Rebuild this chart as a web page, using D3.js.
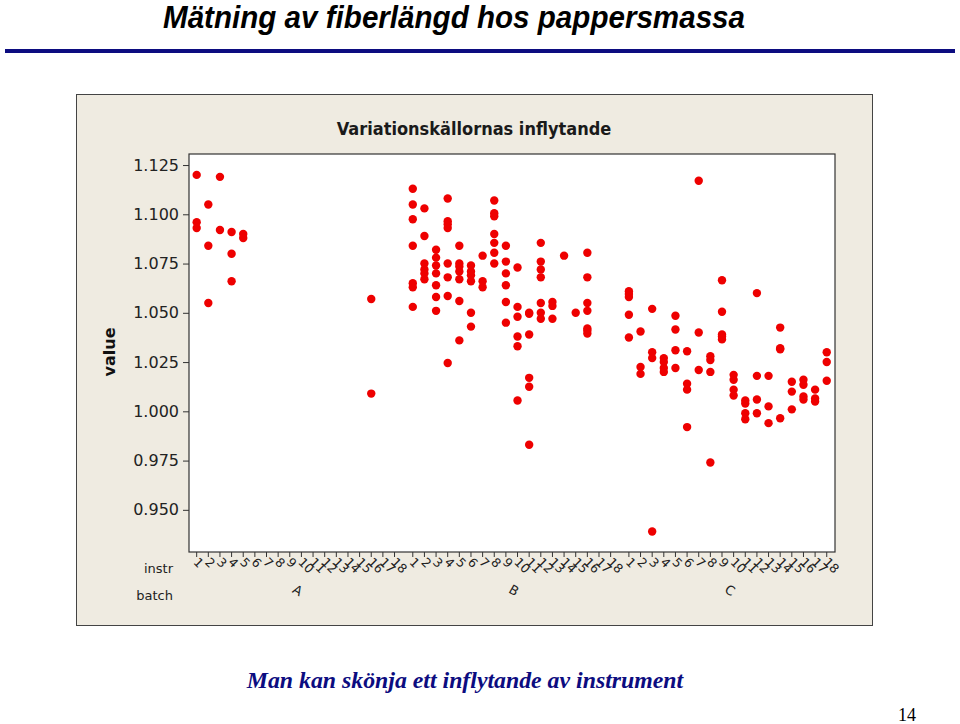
<!DOCTYPE html>
<html><head><meta charset="utf-8">
<script src="https://cdn.jsdelivr.net/npm/d3@7"></script>
<style>body{margin:0;background:#fff}svg{display:block}</style>
</head><body>
<svg id="c" width="960" height="724"></svg>
<script>
// ---- data ----
const batches = ["A", "B", "C"];
const instruments = ["1","2","3","4","5","6","7","8","9","10","11","12","13","14","15","16","17","18"];
const yTicks = [0.950, 0.975, 1.000, 1.025, 1.050, 1.075, 1.100, 1.125];
// values per instrument (1..18) for each batch
const batchA = [
  [1.120, 1.096, 1.093], [1.105, 1.084, 1.055], [1.119, 1.092], [1.091, 1.080, 1.066], [1.090, 1.088],
  [], [], [], [], [], [], [], [], [], [],
  [1.057, 1.009], [], []
];
const batchB = [
  [1.113, 1.105, 1.0975, 1.084, 1.065, 1.063, 1.053],
  [1.103, 1.089, 1.075, 1.072, 1.070, 1.067],
  [1.082, 1.078, 1.074, 1.070, 1.064, 1.058, 1.051],
  [1.108, 1.0965, 1.095, 1.093, 1.075, 1.068, 1.0585, 1.0245],
  [1.084, 1.075, 1.0735, 1.071, 1.067, 1.056, 1.036],
  [1.074, 1.071, 1.069, 1.066, 1.050, 1.043],
  [1.079, 1.066, 1.063],
  [1.107, 1.1005, 1.099, 1.090, 1.0855, 1.0805, 1.075],
  [1.084, 1.076, 1.070, 1.064, 1.0555, 1.045],
  [1.073, 1.053, 1.048, 1.038, 1.033, 1.0055],
  [1.050, 1.0495, 1.039, 1.017, 1.0125, 0.983],
  [1.0855, 1.076, 1.072, 1.068, 1.055, 1.050, 1.047],
  [1.0555, 1.0535, 1.047],
  [1.079],
  [1.050],
  [1.0805, 1.068, 1.055, 1.051, 1.042, 1.041, 1.0395],
  [], []
];
const batchC = [
  [1.061, 1.0595, 1.058, 1.049, 1.0375],
  [1.0405, 1.0225, 1.019],
  [1.052, 1.030, 1.027, 0.939],
  [1.027, 1.025, 1.022, 1.020],
  [1.0485, 1.0415, 1.031, 1.022],
  [1.0305, 1.014, 1.011, 0.992],
  [1.117, 1.040, 1.021],
  [1.028, 1.026, 1.020, 0.974],
  [1.0665, 1.0505, 1.039, 1.038, 1.0365],
  [1.0185, 1.016, 1.011, 1.008],
  [1.0055, 1.004, 0.999, 0.996],
  [1.060, 1.018, 1.006, 0.999],
  [1.018, 1.0025, 0.994],
  [1.0425, 1.032, 1.0315, 0.9965],
  [1.015, 1.010, 1.001],
  [1.016, 1.0135, 1.0075, 1.006],
  [1.011, 1.0065, 1.005],
  [1.030, 1.025, 1.0155]
];
const batchValues = [batchA, batchB, batchC];

// ---- layout ----
const svg = d3.select("#c");
const GROUP_STEP = 18.57;
const pos = (b, i) => b * GROUP_STEP + i;

// slide title
svg.append("text").attr("x", 163).attr("y", 28)
  .attr("font-family", "Liberation Sans, Arial, sans-serif").attr("font-weight", "bold")
  .attr("font-style", "italic").attr("font-size", 30.5).attr("fill", "#000")
  .attr("textLength", 582).attr("lengthAdjust", "spacingAndGlyphs")
  .text("Mätning av fiberlängd hos pappersmassa");
svg.append("rect").attr("x", 5).attr("y", 49).attr("width", 950).attr("height", 4).attr("fill", "#0c0c80");

// chart frame
svg.append("rect").attr("x", 76.5).attr("y", 94.5).attr("width", 796).attr("height", 531)
  .attr("fill", "#efebe1").attr("stroke", "#444").attr("stroke-width", 1);

const plot = {left: 189, right: 835, top: 154, bottom: 552};
const x = d3.scaleLinear().domain([-0.66, 2 * GROUP_STEP + 17.71]).range([plot.left, plot.right]);
const y = d3.scaleLinear().domain([0.9286, 1.1306]).range([plot.bottom, plot.top]);

svg.append("rect").attr("x", plot.left).attr("y", plot.top)
  .attr("width", plot.right - plot.left).attr("height", plot.bottom - plot.top)
  .attr("fill", "#fff").attr("stroke", "#333").attr("stroke-width", 1.2);

svg.append("text").attr("x", 474).attr("y", 135).attr("text-anchor", "middle")
  .attr("font-family", "DejaVu Sans Condensed, DejaVu Sans, sans-serif").attr("font-weight", "bold")
  .attr("font-size", 18).attr("fill", "#1a1a1a").text("Variationskällornas inflytande");

// y axis
const yAxis = d3.axisLeft(y).tickValues(yTicks).tickFormat(d3.format(".3f")).tickSize(6).tickSizeOuter(0);
const gy = svg.append("g").attr("transform", `translate(${plot.left},0)`).call(yAxis);
gy.select(".domain").remove();
gy.selectAll(".tick line").attr("stroke", "#333");
gy.selectAll(".tick text").attr("font-family", "DejaVu Sans, sans-serif").attr("font-size", 16)
  .attr("fill", "#222").attr("x", -10);

svg.append("text").attr("transform", `translate(115,352) rotate(-90)`).attr("text-anchor", "middle")
  .attr("font-family", "DejaVu Sans, sans-serif").attr("font-weight", "bold").attr("font-size", 16)
  .attr("fill", "#111").text("value");

// x axis ticks & labels
const xTickData = [];
batches.forEach((b, bi) => instruments.forEach((ins, ii) => xTickData.push({bi, ii, ins, p: pos(bi, ii)})));
const gx = svg.append("g");
gx.selectAll("line.xt").data(xTickData).join("line").attr("class", "xt")
  .attr("x1", d => x(d.p)).attr("x2", d => x(d.p)).attr("y1", plot.bottom).attr("y2", plot.bottom + 5)
  .attr("stroke", "#333");
gx.selectAll("text.xl").data(xTickData).join("text").attr("class", "xl")
  .attr("transform", d => `translate(${x(d.p) - 4},${plot.bottom + 11}) rotate(45)`)
  .attr("font-family", "DejaVu Sans, sans-serif").attr("font-size", 12.5).attr("fill", "#222")
  .text(d => d.ins);

svg.append("text").attr("x", 173).attr("y", 573).attr("text-anchor", "end")
  .attr("font-family", "DejaVu Sans, sans-serif").attr("font-size", 13).attr("fill", "#222").text("instr");
svg.append("text").attr("x", 173).attr("y", 600).attr("text-anchor", "end")
  .attr("font-family", "DejaVu Sans, sans-serif").attr("font-size", 13).attr("fill", "#222").text("batch");
svg.selectAll("text.bl").data(batches).join("text").attr("class", "bl")
  .attr("transform", (d, i) => `translate(${(x(pos(i, 0)) + x(pos(i, 17))) / 2 - 4},${592}) rotate(30)`)
  .attr("font-family", "DejaVu Sans, sans-serif").attr("font-size", 13).attr("fill", "#222").text(d => d);

// points
const pts = [];
batchValues.forEach((arr, bi) => arr.forEach((vals, ii) => vals.forEach(v => pts.push({bi, ii, v}))));
svg.append("g").selectAll("circle").data(pts).join("circle")
  .attr("cx", d => x(pos(d.bi, d.ii))).attr("cy", d => y(d.v)).attr("r", 4.2)
  .attr("fill", "#ee0000");

// caption & page number
svg.append("text").attr("x", 465).attr("y", 688).attr("text-anchor", "middle")
  .attr("font-family", "Liberation Serif, Times New Roman, serif").attr("font-style", "italic")
  .attr("font-weight", "bold").attr("font-size", 23.8).attr("fill", "#0c0c80")
  .text("Man kan skönja ett inflytande av instrument");
svg.append("text").attr("x", 916).attr("y", 721).attr("text-anchor", "end")
  .attr("font-family", "Liberation Serif, Times New Roman, serif").attr("font-size", 18)
  .attr("fill", "#000").text("14");
</script>
</body></html>
